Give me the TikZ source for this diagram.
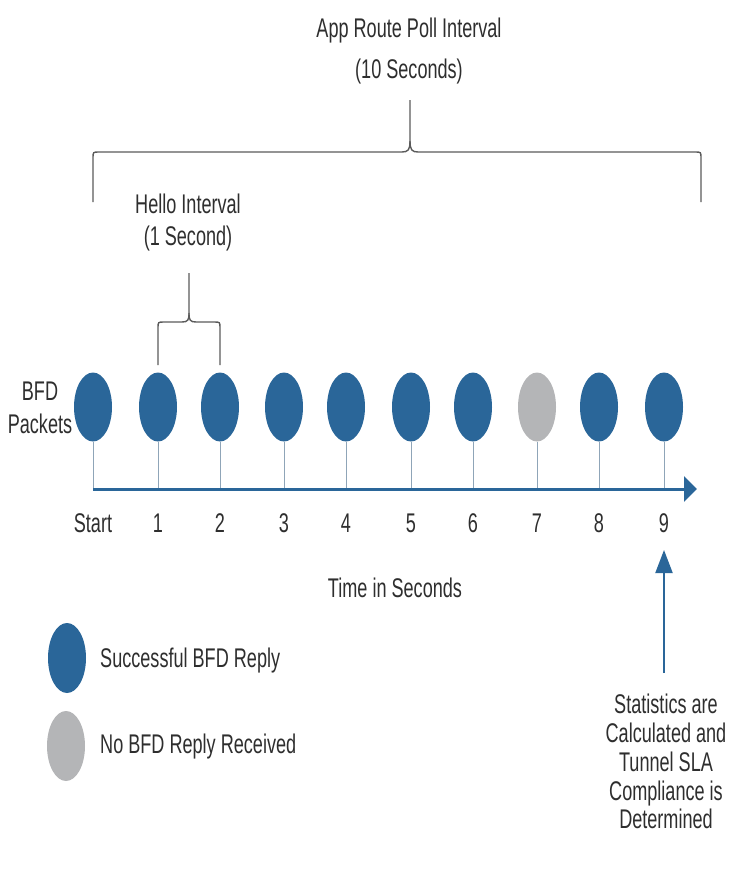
\documentclass[tikz,border=0pt]{standalone}
\usepackage{fontspec}
\setmainfont{Liberation Sans}[FakeStretch=0.67]
\usetikzlibrary{shapes.geometric,arrows.meta}
\definecolor{bfdblue}{HTML}{2A6699}
\definecolor{bfdgrey}{HTML}{B4B5B7}
\definecolor{txt}{HTML}{2E2E2E}
\definecolor{bracecol}{HTML}{5A5A5A}
\definecolor{tickcol}{HTML}{8FA5B8}
\begin{document}
\begin{tikzpicture}[x=1pt,y=-1pt,
  pkt/.style={ellipse,fill=bfdblue,minimum width=38pt,minimum height=69pt,inner sep=0pt},
  lost/.style={pkt,fill=bfdgrey},
  lbl/.style={font=\fontsize{27}{30}\selectfont,text=txt,inner sep=0pt},
  bracket/.style={draw=bracecol,line width=1.4pt},
  tickline/.style={draw=tickcol,line width=1pt},
  axisline/.style={draw=bfdblue,line width=3pt,-{Triangle[length=13pt,width=25pt]}},
  statarrow/.style={draw=bfdblue,line width=2pt,-{Triangle[length=23pt,width=17pt]}}]
\useasboundingbox (0,0) rectangle (728,875);

% top brace
\draw[bracket] (93,202) -- (93,158) .. controls (93,152) .. (99,152) -- (402,152)
  .. controls (408,152) and (410,150) .. (410,141) -- (410,100);
\draw[bracket] (701,202) -- (701,158) .. controls (701,152) .. (695,152) -- (418,152)
  .. controls (412,152) and (410,150) .. (410,141);
\node[lbl,align=center,anchor=north,font=\fontsize{27}{41}\selectfont] (app) at (409,18)
  {App Route Poll Interval\\(10 Seconds)};

% hello brace
\draw[bracket] (158,365) -- (158,328) .. controls (158,322) .. (164,322) -- (182,322)
  .. controls (188,322) and (189,320) .. (189,313) -- (189,273);
\draw[bracket] (220,365) -- (220,328) .. controls (220,322) .. (214,322) -- (196,322)
  .. controls (190,322) and (189,320) .. (189,313);
\node[lbl,align=center,anchor=north,font=\fontsize{27}{32}\selectfont] (hello) at (188,194)
  {Hello Interval\\(1 Second)};

% packets
\node[pkt] (c0) at (93,407) {};
\node[pkt] (c1) at (158,407) {};
\node[pkt] (c2) at (220,407) {};
\node[pkt] (c3) at (284,407) {};
\node[pkt] (c4) at (346,407) {};
\node[pkt] (c5) at (411,407) {};
\node[pkt] (c6) at (473,407) {};
\node[lost] (c7) at (537,407) {};
\node[pkt] (c8) at (599,407) {};
\node[pkt] (c9) at (664,407) {};

\node[lbl,align=center,anchor=north,font=\fontsize{27}{33}\selectfont] (bfd) at (40,382)
  {BFD\\Packets};

% axis
\coordinate (axs) at (93,489);
\coordinate (axe) at (697,489);
\foreach \i in {0,...,9} {
  \draw[tickline] (c\i.south) -- (c\i.south |- axs);
}
\draw[axisline] (axs) -- (axe);

% numbers
\node[lbl,anchor=base] (n0) at (93,532) {Start};
\node[lbl,anchor=base] (n1) at (158,532) {1};
\node[lbl,anchor=base] (n2) at (220,532) {2};
\node[lbl,anchor=base] (n3) at (284,532) {3};
\node[lbl,anchor=base] (n4) at (346,532) {4};
\node[lbl,anchor=base] (n5) at (411,532) {5};
\node[lbl,anchor=base] (n6) at (473,532) {6};
\node[lbl,anchor=base] (n7) at (537,532) {7};
\node[lbl,anchor=base] (n8) at (599,532) {8};
\node[lbl,anchor=base] (n9) at (664,532) {9};

\node[lbl,anchor=base] (time) at (395,597) {Time in Seconds};

% legend
\node[pkt,minimum width=38pt,minimum height=70pt] (lg1) at (67,658) {};
\node[lbl,anchor=base west] (lt1) at (100,667) {Successful BFD Reply};
\node[lost,minimum width=38pt,minimum height=70pt] (lg2) at (66,746) {};
\node[lbl,anchor=base west] (lt2) at (100,753) {No BFD Reply Received};

% statistics
\node[lbl,align=center,anchor=north,font=\fontsize{27}{28.8}\selectfont] (stats) at (666,694)
  {Statistics are\\Calculated and\\Tunnel SLA\\Compliance is\\Determined};
\coordinate (abot) at (664,673);
\coordinate (atip) at (664,550);
\draw[statarrow] (abot) -- (atip);
\end{tikzpicture}
\end{document}
